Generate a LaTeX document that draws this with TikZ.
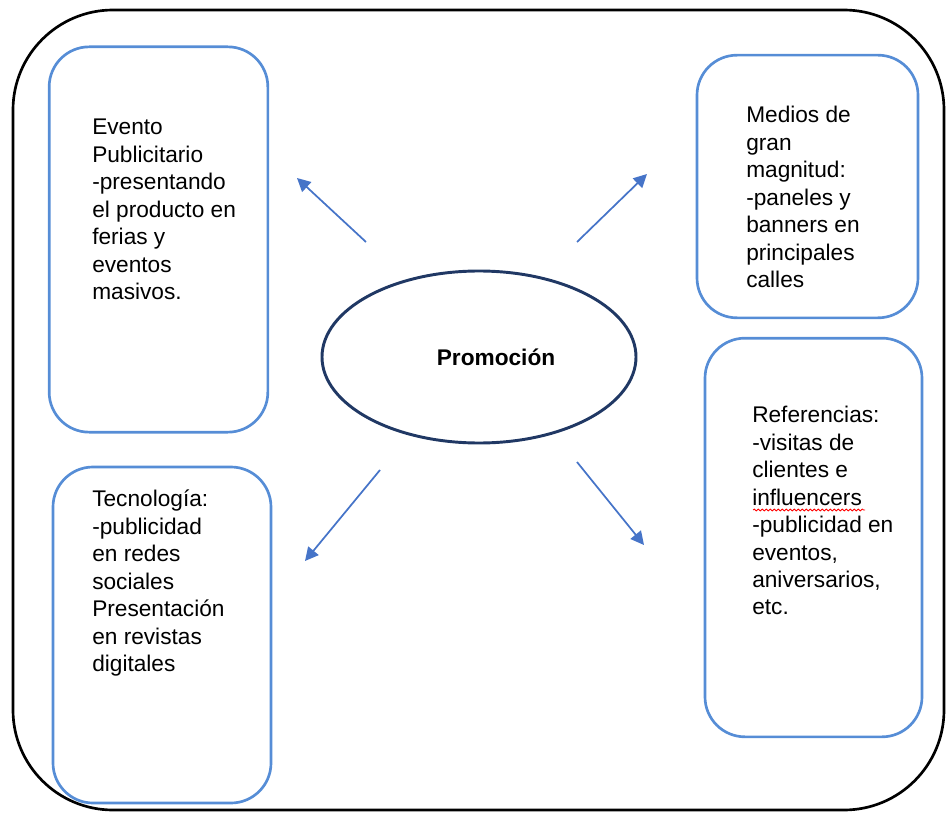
\documentclass[tikz,border=0pt]{standalone}
\usepackage{fontspec}
\setmainfont{Liberation Sans}
\usepackage{xcolor}
\usetikzlibrary{arrows.meta,calc,decorations.pathmorphing,positioning,shapes.geometric}

\definecolor{boxblue}{RGB}{86,141,214}
\definecolor{arrowblue}{RGB}{70,116,200}
\definecolor{navy}{RGB}{32,56,100}

\tikzset{
	outer/.style={draw=black,line width=2pt,rounded corners=75pt},
	box/.style={draw=boxblue,line width=2pt,rounded corners=30pt,inner sep=0pt},
	txt/.style={anchor=north west,align=left,inner sep=0pt,font=\fontsize{17}{20.6}\selectfont},
	flecha/.style={draw=arrowblue,line width=1.3pt,-{Triangle[length=10pt,width=10pt]}}
}

\begin{document}
\begin{tikzpicture}[x=0.75pt,y=-0.75pt]
	\useasboundingbox (0,0) rectangle (946,813);
	\draw[outer] (13,10) rectangle (944,810);

	% cajas
	\node[box,minimum width=164pt,minimum height=289pt] (evento) at (158.5,239.5) {};
	\node[box,minimum width=163.5pt,minimum height=252pt] (tecno) at (162,635) {};
	\node[box,minimum width=165.75pt,minimum height=197pt] (medios) at (807.5,186.5) {};
	\node[box,minimum width=162.75pt,minimum height=299pt] (refs) at (813.5,537.5) {};
	\node[ellipse,draw=navy,line width=2.2pt,minimum width=235.5pt,minimum height=129pt] (promo) at (479,357) {};
	\node[font=\fontsize{17}{20}\selectfont\bfseries] (ptxt) at (496,357) {Promoción};

	% textos
	\node[txt] (t1) at (92,119) {Evento\\Publicitario\\-presentando\\el producto en\\ferias y\\eventos\\masivos.};
	\node[txt] (t2) at (92,490) {Tecnología:\\-publicidad\\en redes\\sociales\\Presentación\\en revistas\\digitales};
	\node[txt] (t3) at (746,106) {Medios de\\gran\\magnitud:\\-paneles y\\banners en\\principales\\calles};
	\node[txt] (t4) at (752,406) {Referencias:\\-visitas de\\clientes e\\influencers\\-publicidad en\\eventos,\\aniversarios,\\etc.};
	\draw[red,line width=0.6pt,decoration={snake,segment length=3pt,amplitude=0.7pt},decorate] (753,510) -- (865,510);

	% flechas
	\coordinate (a1) at (366,242);
	\coordinate (b1) at (297,178);
	\coordinate (a2) at (577,242);
	\coordinate (b2) at (647,174);
	\coordinate (a3) at (380,470);
	\coordinate (b3) at (305,561);
	\coordinate (a4) at (577,462);
	\coordinate (b4) at (644,545);
	\draw[flecha] (a1) -- (b1);
	\draw[flecha] (a2) -- (b2);
	\draw[flecha] (a3) -- (b3);
	\draw[flecha] (a4) -- (b4);
\end{tikzpicture}
\end{document}
